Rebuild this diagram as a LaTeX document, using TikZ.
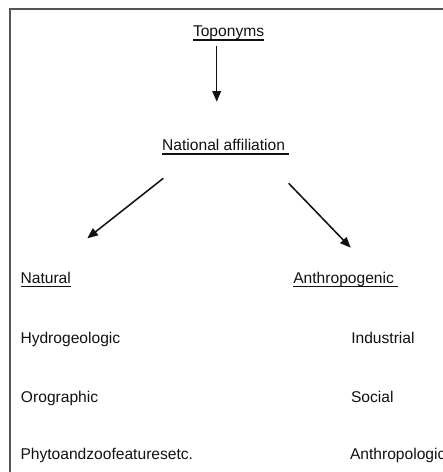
\documentclass[tikz,border=0pt]{standalone}
\usepackage{fontspec}
\setmainfont[Ligatures=NoCommon]{Liberation Sans}
\usepackage{xcolor}
\usepackage{tikz}
\usetikzlibrary{arrows.meta}
\definecolor{frameGray}{HTML}{555555}
\definecolor{inkBlack}{HTML}{111111}

% text with a plain underline at a fixed depth
\newcommand{\undl}[1]{\setbox0=\hbox{#1}\rlap{\rule[-3.1pt]{\wd0}{1.05pt}}\box0}

\begin{document}
\begin{tikzpicture}[x=0.75pt, y=-0.75pt,
    every node/.style={inner sep=0pt, outer sep=0pt, anchor=base west,
      font=\fontsize{11.7}{14}\selectfont, text=inkBlack},
    arr/.style={-{Triangle[length=8pt, width=6.5pt]}, line width=1.15pt, inkBlack}]
  \useasboundingbox (0,0) rectangle (443,472);
  \clip (0,0) rectangle (443,472);

  % frame, cut by the page on the right and at the bottom
  \draw[frameGray, line width=1.1pt] (10,480) -- (10,9) -- (450,9);

  % top of the tree
  \node (topo) at (193.0,36.7) {\undl{Toponyms}};
  \node (natl) at (162.2,150.7) {\undl{National affiliation\ }};

  % two branches
  \node (natr) at (20.6,283.3) {\undl{Natural}};
  \node (anth) at (293.3,283.3) {\undl{Anthropogenic\ }};

  % kinds under each branch
  \node (hydr) at (20.5,343.3) {Hydrogeologic};
  \node (orog) at (21.0,402.5) {Orographic};
  \node (phyt) at (20.5,459.3) {Phytoandzoofeaturesetc.};
  \node (indu) at (351.3,343.3) {Industrial};
  \node (soci) at (351.0,402.5) {Social};
  \node (anlg) at (350.0,459.3) {Anthropologic};

  % arrow ends
  \coordinate (topoOut) at (216.7,46);
  \coordinate (natlIn) at (216.7,101.7);
  \coordinate (natlOutL) at (163.3,178.3);
  \coordinate (natrIn) at (87.3,238.3);
  \coordinate (natlOutR) at (288.7,183.3);
  \coordinate (anthIn) at (350.7,247.7);

  \draw[arr] (topoOut) -- (natlIn);
  \draw[arr] (natlOutL) -- (natrIn);
  \draw[arr] (natlOutR) -- (anthIn);
\end{tikzpicture}
\end{document}
